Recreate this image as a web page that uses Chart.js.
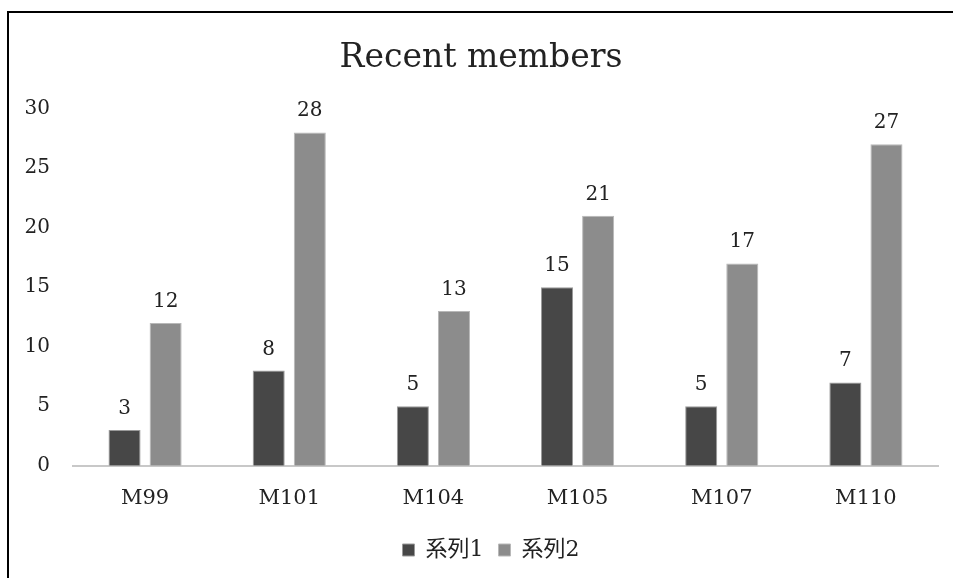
<!DOCTYPE html>
<html>
<head>
<meta charset="utf-8">
<title>Recent members</title>
<script src="https://cdn.jsdelivr.net/npm/chart.js@4.4.0/dist/chart.umd.min.js"></script>
<style>
  body {
    margin: 0;
    background: #fff;
    overflow: hidden;
  }
  #wrap {
    position: relative;
    width: 953px;
    height: 578px;
  }
  #frame {
    position: absolute;
    left: 7px;
    top: 11px;
    width: 1000px;
    height: 600px;
    border-top: 2px solid #000;
    border-left: 2px solid #000;
    pointer-events: none;
  }
</style>
</head>
<body>
<div id="wrap">
  <canvas id="myChart" width="953" height="578"></canvas>
  <div id="frame"></div>
</div>
<script>
"use strict";

const categories = ["M99", "M101", "M104", "M105", "M107", "M110"];
const series1 = [3, 8, 5, 15, 5, 7];
const series2 = [12, 28, 13, 21, 17, 27];
const seriesNames = ["系列1", "系列2"];
const yTicks = [0, 5, 10, 15, 20, 25, 30];

const textColor = "#222";
const serif = "'DejaVu Serif', 'Noto Sans CJK JP', serif";

// writes each bar's value just above it
const barValues = {
  id: "barValues",
  afterDatasetsDraw(chart) {
    let ctx = chart.ctx;
    ctx.save();
    ctx.font = "20px " + serif;
    ctx.fillStyle = textColor;
    ctx.textAlign = "center";
    ctx.textBaseline = "alphabetic";
    chart.data.datasets.forEach(function (ds, i) {
      let meta = chart.getDatasetMeta(i);
      meta.data.forEach(function (bar, j) {
        ctx.fillText(String(ds.data[j]), bar.x, bar.y - 16);
      });
    });
    ctx.restore();
  },
};

// nudge the legend a bit right and up
const legendShift = {
  id: "legendShift",
  afterLayout(chart) {
    let lg = chart.legend;
    if (lg) {
      lg.left += 10;
      lg.right += 10;
      lg.top -= 7;
      lg.bottom -= 7;
    }
  },
};

const data = {
  labels: categories,
  datasets: [
    {
      label: seriesNames[0],
      data: series1,
      backgroundColor: "#474747",
      borderColor: "#9a9a9a",
      borderWidth: 1,
    },
    {
      label: seriesNames[1],
      data: series2,
      backgroundColor: "#8c8c8c",
      borderColor: "#b8b8b8",
      borderWidth: 1,
    },
  ],
};

const config = {
  type: "bar",
  data: data,
  plugins: [barValues, legendShift],
  options: {
    responsive: false,
    animation: false,
    categoryPercentage: 0.57,
    barPercentage: 0.78,
    layout: {
      padding: { top: 21, left: 24, right: 15, bottom: 0 },
    },
    plugins: {
      title: {
        display: true,
        text: "Recent members",
        color: textColor,
        font: { family: serif, size: 33, weight: "normal" },
        padding: { top: 18, bottom: 30 },
      },
      legend: {
        position: "bottom",
        labels: {
          color: textColor,
          font: { family: serif, size: 22 },
          boxWidth: 12,
          boxHeight: 12,
          padding: 15,
        },
      },
      tooltip: { enabled: false },
    },
    scales: {
      x: {
        grid: { display: false, drawTicks: false },
        border: { display: true, color: "#c8c8c8", width: 2 },
        ticks: {
          color: textColor,
          font: { family: serif, size: 21 },
          padding: 20,
        },
      },
      y: {
        min: 0,
        max: 30,
        grid: { display: false, drawTicks: false },
        border: { display: false },
        afterFit(scale) {
          scale.width = 49;
        },
        afterBuildTicks(scale) {
          scale.ticks = yTicks.map(function (v) {
            return { value: v };
          });
        },
        ticks: {
          color: textColor,
          font: { family: serif, size: 20 },
          padding: 23,
        },
      },
    },
  },
};

new Chart(document.getElementById("myChart"), config);
</script>
</body>
</html>
